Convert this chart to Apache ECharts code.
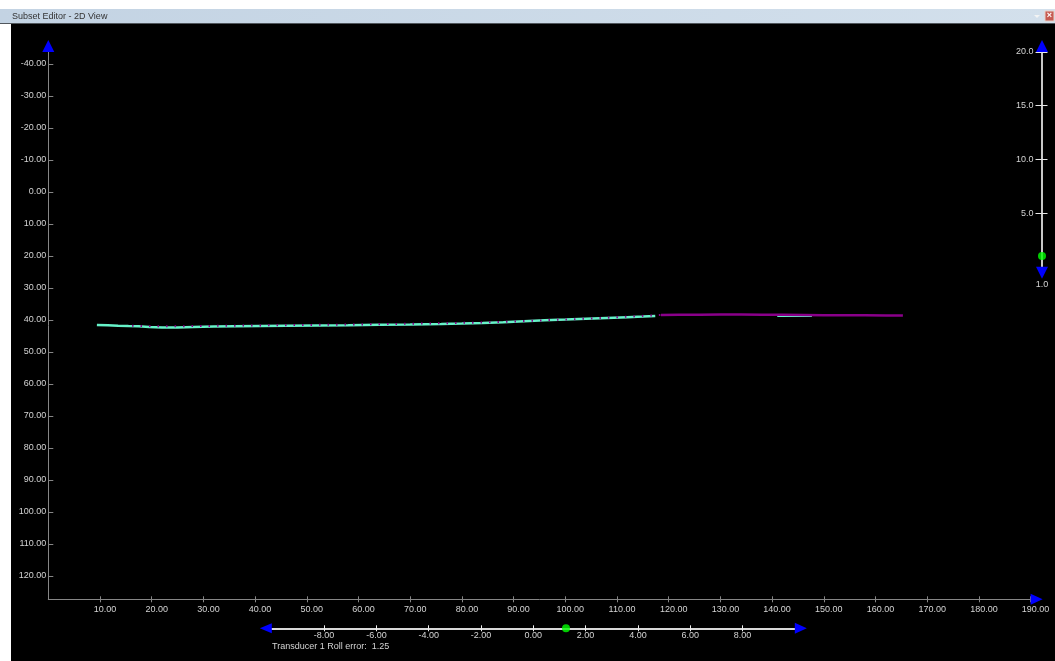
<!DOCTYPE html>
<html><head><meta charset="utf-8">
<script src="https://cdn.jsdelivr.net/npm/echarts@6/dist/echarts.min.js"></script>
<style>html,body{margin:0;padding:0;background:#fff;}#c{width:1055px;height:661px;}</style>
</head><body><div id="c"></div>
<script>
// ---- data ----
const cyanX = [9.4, 11.5, 13.5, 15.5, 17.5, 19.5, 22, 25, 28, 32, 36, 41, 46, 52, 58, 64, 70, 76, 80, 84, 88, 92, 96, 100, 104, 108, 112, 115, 117.4];
const cyanY = [41.56, 41.66, 41.78, 41.88, 41.97, 42.19, 42.34, 42.34, 42.19, 42.03, 41.94, 41.88, 41.81, 41.72, 41.63, 41.5, 41.4, 41.25, 41.13, 40.94, 40.69, 40.38, 40.09, 39.88, 39.63, 39.38, 39.13, 38.94, 38.75];
const cyanTailX = [141, 144.5, 147.7];
const cyanTailY = [38.78, 38.75, 38.72];
const purpleDotX = [16.2, 20, 25, 30, 36, 42, 48, 54, 60, 66, 72, 78, 84, 90, 96, 102, 108, 114, 118.5];
const purpleDotY = [41.81, 41.94, 41.97, 41.88, 41.78, 41.69, 41.59, 41.5, 41.41, 41.28, 41.13, 40.97, 40.78, 40.47, 40.09, 39.75, 39.31, 38.81, 38.44];
const purpleX = [118.5, 122, 126, 130, 134, 138, 142, 146, 150, 154, 158, 162, 165.3];
const purpleY = [38.44, 38.38, 38.34, 38.31, 38.31, 38.34, 38.38, 38.44, 38.5, 38.53, 38.56, 38.59, 38.63];
const xTicks = [10, 20, 30, 40, 50, 60, 70, 80, 90, 100, 110, 120, 130, 140, 150, 160, 170, 180, 190];
const yTicks = [-40, -30, -20, -10, 0, 10, 20, 30, 40, 50, 60, 70, 80, 90, 100, 110, 120];
const scaleTicks = [5, 10, 15, 20];
const rollTicks = [-8, -6, -4, -2, 0, 2, 4, 6, 8];
const scaleValue = 1.0;
const rollError = 1.25;
const titleText = 'Subset Editor - 2D View';
const rollText = 'Transducer 1 Roll error:  1.25';

// ---- styling ----
const FONT = 'Liberation Sans';
const LBL = '#d4d4d4';
const AX = '#868686';
const CYAN = '#66f2c8';
const PURPLE = '#8a008a';
const BLUE = '#0000ff';
const zip = (xs, ys) => xs.map((x, i) => [x, ys[i]]);
const lbl = (extra) => Object.assign({color: LBL, fontSize: 9, fontFamily: FONT}, extra);

const chart = echarts.init(document.getElementById('c'), null, {renderer: 'canvas'});
const option = {
  backgroundColor: '#000',
  animation: false,
  grid: [
    {left: 48.3, top: 52, right: 24.4, bottom: 61.7},
    {left: 1041.5, width: 1, top: 52, height: 214.7},
    {left: 271.8, right: 260.2, top: 627.3, height: 1}
  ],
  xAxis: [
    {gridIndex: 0, type: 'value', min: 0, max: 190, position: 'bottom',
     axisLine: {show: true, onZero: false, lineStyle: {color: AX, width: 1}},
     axisTick: {show: true, customValues: xTicks, length: 3, lineStyle: {color: AX}},
     axisLabel: lbl({customValues: xTicks, formatter: v => v.toFixed(2), margin: 6, padding: [0, 0, 0, 10]}),
     splitLine: {show: false}},
    {gridIndex: 0, type: 'value', min: 0, max: 190, position: 'bottom',
     axisLine: {show: false, onZero: false},
     axisTick: {show: true, inside: true, customValues: xTicks, length: 3, lineStyle: {color: AX}},
     axisLabel: {show: false}, splitLine: {show: false}},
    {gridIndex: 1, type: 'value', min: 0, max: 1, show: false},
    {gridIndex: 2, type: 'value', min: -10, max: 10, position: 'bottom',
     axisLine: {show: true, onZero: false, lineStyle: {color: '#d8d8d8', width: 2}},
     axisTick: {show: true, customValues: rollTicks, length: 3, lineStyle: {color: '#f0f0f0'}},
     axisLabel: lbl({customValues: rollTicks, formatter: v => v.toFixed(2), margin: 3}),
     splitLine: {show: false}},
    {gridIndex: 2, type: 'value', min: -10, max: 10, position: 'bottom',
     axisLine: {show: false, onZero: false},
     axisTick: {show: true, inside: true, customValues: rollTicks, length: 3, lineStyle: {color: '#f0f0f0'}},
     axisLabel: {show: false}, splitLine: {show: false}}
  ],
  yAxis: [
    {gridIndex: 0, type: 'value', inverse: true, min: -43.75, max: 127.3, position: 'left',
     axisLine: {show: true, onZero: false, lineStyle: {color: AX, width: 1}},
     axisTick: {show: true, inside: true, customValues: yTicks, length: 5, lineStyle: {color: AX}},
     axisLabel: lbl({customValues: yTicks, formatter: v => v.toFixed(2), margin: 2}),
     splitLine: {show: false}},
    {gridIndex: 1, type: 'value', min: 0, max: 20, position: 'left',
     axisLine: {show: true, onZero: false, lineStyle: {color: '#c8c8c8', width: 2}},
     axisTick: {show: true, customValues: scaleTicks, length: 6, lineStyle: {color: '#e8e8e8'}},
     axisLabel: lbl({customValues: scaleTicks, formatter: v => v.toFixed(1), margin: 8}),
     splitLine: {show: false}},
    {gridIndex: 1, type: 'value', min: 0, max: 20, position: 'left',
     axisLine: {show: false, onZero: false},
     axisTick: {show: true, inside: true, customValues: scaleTicks, length: 6, lineStyle: {color: '#e8e8e8'}},
     axisLabel: {show: false}, splitLine: {show: false}},
    {gridIndex: 2, type: 'value', min: 0, max: 1, show: false}
  ],
  series: [
    {type: 'line', xAxisIndex: 0, yAxisIndex: 0, data: zip(purpleX, purpleY), symbol: 'none',
     lineStyle: {color: PURPLE, width: 2.5}, silent: true, z: 3},
    {type: 'line', xAxisIndex: 0, yAxisIndex: 0, data: zip(cyanX, cyanY), symbol: 'none',
     lineStyle: {color: CYAN, width: 2.5}, silent: true, z: 4},
    {type: 'line', xAxisIndex: 0, yAxisIndex: 0, data: zip(cyanTailX, cyanTailY), symbol: 'none',
     lineStyle: {color: CYAN, width: 2}, silent: true, z: 2},
    {type: 'line', xAxisIndex: 0, yAxisIndex: 0, data: zip(purpleDotX, purpleDotY), symbol: 'none',
     lineStyle: {color: PURPLE, width: 2, type: [1.5, 7]}, silent: true, z: 5},
    {type: 'scatter', xAxisIndex: 2, yAxisIndex: 1, data: [[0.5, scaleValue]], symbolSize: 8,
     itemStyle: {color: '#00ff00'}, clip: false, silent: true, z: 6},
    {type: 'scatter', xAxisIndex: 3, yAxisIndex: 3, data: [[rollError, 0]], symbolSize: 8,
     itemStyle: {color: '#00ff00'}, clip: false, silent: true, z: 6}
  ]
};
chart.setOption(option);

// decorations placed from the axes' own scales
const pMainTop = chart.convertToPixel({xAxisIndex: 0, yAxisIndex: 0}, [0, -43.75]);
const pMainRight = chart.convertToPixel({xAxisIndex: 0, yAxisIndex: 0}, [190, 127.3]);
const pScaleTop = chart.convertToPixel({xAxisIndex: 2, yAxisIndex: 1}, [0.5, 20]);
const pScaleBot = chart.convertToPixel({xAxisIndex: 2, yAxisIndex: 1}, [0.5, 0]);
const pRollL = chart.convertToPixel({xAxisIndex: 3, yAxisIndex: 3}, [-10, 0]);
const pRollR = chart.convertToPixel({xAxisIndex: 3, yAxisIndex: 3}, [10, 0]);

const tri = (pts) => ({type: 'polygon', shape: {points: pts}, style: {fill: BLUE}, z: 100, silent: true});
const up = (x, y) => tri([[x, y - 12], [x - 6, y], [x + 6, y]]);
const down = (x, y) => tri([[x, y + 12], [x - 6, y], [x + 6, y]]);
const right = (x, y) => tri([[x + 12, y], [x, y - 5.5], [x, y + 5.5]]);
const left = (x, y) => tri([[x - 12, y], [x, y - 5], [x, y + 5]]);

chart.setOption({
  graphic: [
    {type: 'rect', shape: {x: 0, y: 0, width: 1055, height: 9}, style: {fill: '#ffffff'}, silent: true},
    {type: 'rect', shape: {x: 0, y: 9, width: 1055, height: 14},
     style: {fill: new echarts.graphic.LinearGradient(0, 0, 1, 0, [{offset: 0, color: '#c3d3e3'}, {offset: 1, color: '#d3e0ec'}])}, silent: true},
    {type: 'rect', shape: {x: 0, y: 23, width: 1055, height: 1}, style: {fill: '#50565c'}, silent: true},
    {type: 'rect', shape: {x: 0, y: 24, width: 11, height: 637}, style: {fill: '#ffffff'}, silent: true},
    {type: 'text', x: 12, y: 16.5, style: {text: titleText, fill: '#333333', font: '9px "Liberation Sans"', verticalAlign: 'middle', align: 'left'}, silent: true},
    {type: 'polygon', shape: {points: [[1034, 15], [1040, 15], [1037, 18]]}, style: {fill: '#f4f4f4'}, silent: true},
    {type: 'rect', shape: {x: 1045, y: 11, width: 9, height: 10}, style: {fill: '#c65b52', stroke: '#e8d0c8', lineWidth: 1}, silent: true},
    {type: 'text', x: 1049.5, y: 16, style: {text: '×', fill: '#ffffff', font: 'bold 9px "Liberation Sans"', align: 'center', verticalAlign: 'middle'}, silent: true},
    up(pMainTop[0], pMainTop[1]),
    right(pMainRight[0], pMainRight[1]),
    up(pScaleTop[0], pScaleTop[1]),
    down(pScaleBot[0], pScaleBot[1]),
    left(pRollL[0], pRollL[1]),
    right(pRollR[0], pRollR[1]),
    {type: 'text', x: pScaleBot[0], y: pScaleBot[1] + 18, style: {text: scaleValue.toFixed(1), fill: LBL, font: '9px "Liberation Sans"', align: 'center', verticalAlign: 'middle'}, silent: true},
    {type: 'text', x: 272, y: 647, style: {text: rollText, fill: LBL, font: '9px "Liberation Sans"', align: 'left', verticalAlign: 'middle'}, silent: true}
  ]
});
</script>
</body></html>
